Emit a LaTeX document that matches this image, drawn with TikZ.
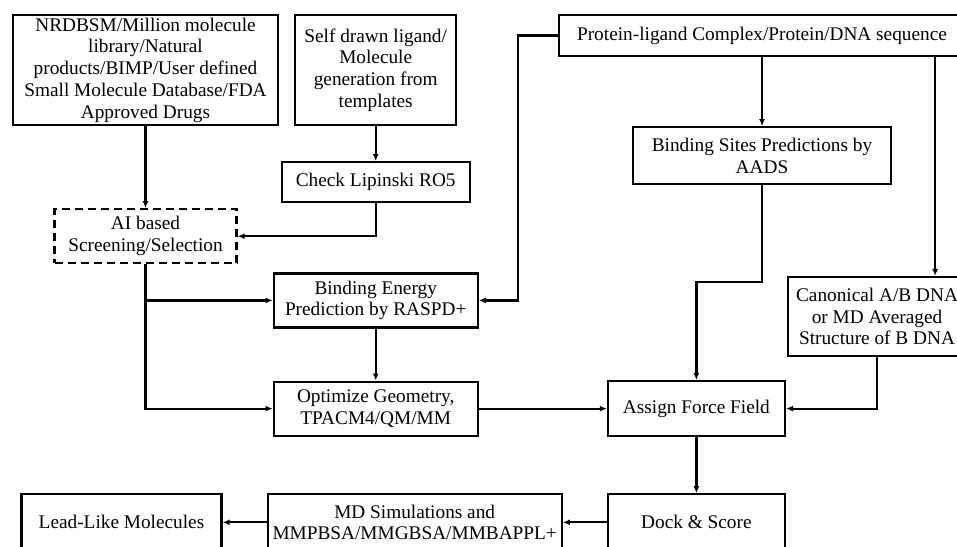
\documentclass[tikz,border=0pt]{standalone}
\usepackage{fontspec}
\setmainfont{Liberation Serif}
\usetikzlibrary{arrows.meta,positioning}

\begin{document}
\begin{tikzpicture}[
    x=1pt, y=-1pt,
    flowbox/.style={rectangle,draw,line width=2.2pt,align=center,inner sep=2pt,
      font=\fontsize{19.3}{21.8}\selectfont},
    aibox/.style={flowbox,dash pattern=on 8pt off 5pt},
    arrow/.style={-{Latex[length=7pt,width=6pt]},line width=2.2pt}
  ]
    \useasboundingbox (0,0) rectangle (957,546);
    \clip (0,0) rectangle (957,546);

    % ligand side
    \node[flowbox,minimum width=265pt,minimum height=110pt] (library) at (145.5,70)
      {NRDBSM/Million molecule\\library/Natural\\products/BIMP/User defined\\Small Molecule Database/FDA\\Approved Drugs};
    \node[flowbox,minimum width=161pt,minimum height=110pt,right=15pt of library] (selfdrawn)
      {Self drawn ligand/\\Molecule\\generation from\\templates};
    \node[flowbox,minimum width=188pt,minimum height=40pt,below=35pt of selfdrawn] (lipinski) {Check Lipinski RO5};
    \node[aibox,minimum width=182pt,minimum height=54pt,below=82pt of library] (aiscreen) {AI based\\Screening/Selection};
    \node[flowbox,minimum width=204pt,minimum height=54pt,below=69pt of lipinski] (raspd) {Binding Energy\\Prediction by RASPD+};
    \node[flowbox,minimum width=204pt,minimum height=54pt,below=52pt of raspd] (optgeom) {Optimize Geometry,\\TPACM4/QM/MM};

    % target side
    \node[flowbox,minimum width=406pt,minimum height=41pt] (target) at (762,35.5)
      {Protein-ligand Complex/Protein/DNA sequence};
    \node[flowbox,minimum width=258pt,minimum height=57pt,below=69pt of target] (aads) {Binding Sites Predictions by\\AADS};
    \node[flowbox,minimum width=177pt,minimum height=55pt,right=128pt of optgeom] (forcefield) {Assign Force Field};
    \node[flowbox,minimum width=178pt,minimum height=79pt] (dnamodel) at (877,316.5)
      {Canonical A/B DNA\\or MD Averaged\\Structure of B DNA};

    % bottom row
    \node[flowbox,minimum width=177pt,minimum height=56pt,below=56pt of forcefield] (dock) {Dock \& Score};
    \node[flowbox,minimum width=294pt,minimum height=56pt,left=44pt of dock] (mdsim) {MD Simulations and\\MMPBSA/MMGBSA/MMBAPPL+};
    \node[flowbox,minimum width=200pt,minimum height=56pt,left=44pt of mdsim] (lead) {Lead-Like Molecules};

    \draw[arrow] (library) -- (aiscreen);
    \draw[arrow] (selfdrawn) -- (lipinski);
    \draw[arrow] (lipinski.south) |- (aiscreen.east);
    \draw[arrow] (aiscreen.south) |- (raspd.west);
    \draw[arrow] (aiscreen.south) |- (optgeom.west);
    \draw[arrow] (raspd) -- (optgeom);
    \draw[arrow] (target.west) -- ++(-40,0) |- (raspd.east);
    \draw[arrow] (target) -- (aads);
    \draw[arrow] (aads.south) -- ++(0,97) -| (forcefield.north);
    \coordinate (tapdna) at ([xshift=-31pt]target.south east);
    \draw[arrow] (tapdna) -- (tapdna |- dnamodel.north);
    \draw[arrow] (dnamodel.south) |- (forcefield.east);
    \draw[arrow] (optgeom) -- (forcefield);
    \draw[arrow] (forcefield) -- (dock);
    \draw[arrow] (dock) -- (mdsim);
    \draw[arrow] (mdsim) -- (lead);
  \end{tikzpicture}
\end{document}
